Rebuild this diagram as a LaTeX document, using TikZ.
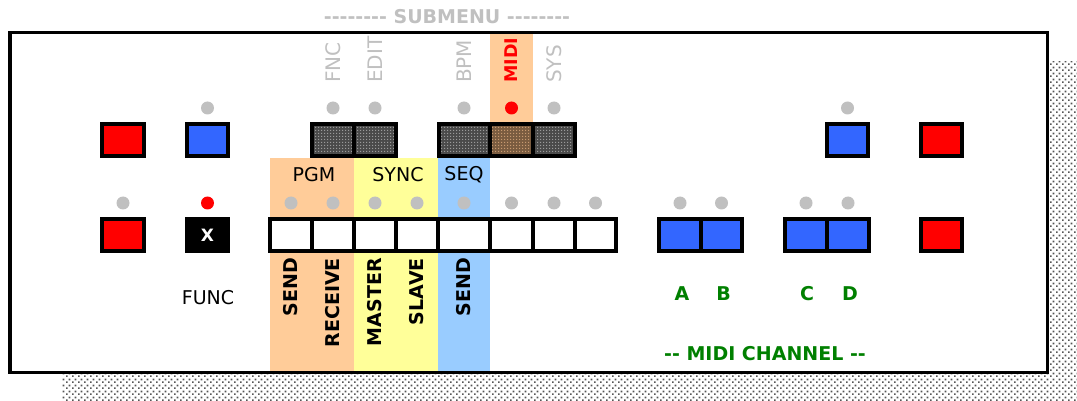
\documentclass[tikz,border=0pt]{standalone}
\usepackage{fontspec}
\setmainfont{DejaVu Sans}
\usetikzlibrary{patterns,patterns.meta}
\definecolor{btnred}{HTML}{FF0000}
\definecolor{btnblue}{HTML}{3366FF}
\definecolor{bandorange}{HTML}{FFCC99}
\definecolor{bandyellow}{HTML}{FFFF99}
\definecolor{bandblue}{HTML}{99CCFF}
\definecolor{ledgray}{HTML}{C0C0C0}
\definecolor{labgreen}{HTML}{008000}
\definecolor{cellgray}{HTML}{4A4A4A}
\definecolor{cellbrown}{HTML}{7A5C40}
\definecolor{dotgray}{HTML}{9A9A9A}
\definecolor{dotorange}{HTML}{C89A70}
\definecolor{shadowdot}{HTML}{555555}
\newcommand\myfs[1]{\fontsize{#1}{#1}\selectfont}
\newcommand\hy{-{}}
\tikzdeclarepattern{name=shadowdots, type=uncolored, bottom left={(0pt,0pt)}, top right={(6pt,6pt)}, tile size={(6pt,6pt)}, code={\fill (0pt,0pt) rectangle (2pt,2pt); \fill (3pt,3pt) rectangle (5pt,5pt);}}
\tikzdeclarepattern{name=celldots, type=uncolored, bottom left={(0pt,0pt)}, top right={(3pt,3pt)}, tile size={(3pt,3pt)}, code={\fill (0pt,0pt) rectangle (1.5pt,1.5pt);}}
\begin{document}
\begin{tikzpicture}[x=1pt,y=-1pt,
  btn/.style={rectangle, draw=black, line width=4pt, minimum height=32pt, inner sep=0pt},
  redbtn/.style={btn, fill=btnred},
  bluebtn/.style={btn, fill=btnblue},
  whitebtn/.style={btn, fill=white},
  darkcell/.style={btn, preaction={fill=cellgray}, pattern=celldots, pattern color=dotgray},
  midicell/.style={btn, preaction={fill=cellbrown}, pattern=celldots, pattern color=dotorange},
  led/.style={circle, fill=ledgray, minimum size=13pt, inner sep=0pt, draw=none},
  redled/.style={led, fill=red},
  toplab/.style={rotate=90, anchor=west, inner sep=0pt, text=ledgray, font=\myfs{20}},
  botlab/.style={rotate=90, anchor=east, inner sep=0pt, font=\myfs{19}\bfseries},
  grn/.style={text=labgreen, font=\myfs{19}\bfseries, inner sep=0pt},
  plain/.style={font=\myfs{19}, inner sep=0pt}
]
\useasboundingbox (0,0) rectangle (1077,401);
% shadow
\begin{scope}
  \clip (0,0) rectangle (1077,401);
  \fill[pattern=shadowdots, pattern color=shadowdot] (62,62) rectangle (1090,410);
\end{scope}
% panel
\fill[white] (9.75,32.75) rectangle (1047.25,372.25);
% bands
\fill[bandorange] (490,32.75) rectangle (533,124);
\fill[bandorange] (270,158) rectangle (354,372.25);
\fill[bandyellow] (354,158) rectangle (438,372.25);
\fill[bandblue] (438,158) rectangle (490,372.25);
\draw[line width=3.5pt] (9.75,32.75) rectangle (1047.25,372.25);

% submenu title
\node[font=\myfs{19}\bfseries, text=ledgray, inner sep=0pt] (submenu) at (447,17) {\hy\hy\hy\hy\hy\hy\hy\hy{} SUBMENU \hy\hy\hy\hy\hy\hy\hy\hy};

% row 1 buttons
\node[redbtn, minimum width=42pt] (r1a) at (123,140) {};
\node[bluebtn, minimum width=41pt] (r1b) at (207.5,140) {};
\node[darkcell, minimum width=42pt] (fnc) at (333,140) {};
\node[darkcell, minimum width=42pt] (edit) at (375,140) {};
\node[darkcell, minimum width=51pt] (bpm) at (464.5,140) {};
\node[midicell, minimum width=43pt] (midi) at (511.5,140) {};
\node[darkcell, minimum width=42pt] (sys) at (554,140) {};
\node[bluebtn, minimum width=41pt] (r1c) at (847.5,140) {};
\node[redbtn, minimum width=41pt] (r1d) at (941.5,140) {};

% row 1 leds
\node[led] (l1b) at (207.5,108) {};
\node[led] (lfnc) at (333,108) {};
\node[led] (ledit) at (375,108) {};
\node[led] (lbpm) at (464,108) {};
\node[redled] (lmidi) at (511.5,108) {};
\node[led] (lsys) at (554,108) {};
\node[led] (l1c) at (847.5,108) {};

% top labels
\node[toplab] (tfnc) at (333,83) {FNC};
\node[toplab] (tedit) at (375,83) {EDIT};
\node[toplab] (tbpm) at (464,83) {BPM};
\node[toplab, text=red, font=\myfs{17.5}\bfseries] (tmidi) at (511.5,83) {MIDI};
\node[toplab] (tsys) at (554,83) {SYS};

% group labels
\node[plain] (pgm) at (314,174.5) {PGM};
\node[plain] (sync) at (398,174.5) {SYNC};
\node[plain] (seq) at (464,174.5) {SEQ};

% row 2 buttons
\node[redbtn, minimum width=42pt] (r2a) at (123,235) {};
\node[btn, fill=black, minimum width=41pt, text=white, font=\myfs{17}\bfseries] (bx) at (207.5,235) {X};
\node[whitebtn, minimum width=42pt] (k1) at (291,235) {};
\node[whitebtn, minimum width=42pt] (k2) at (333,235) {};
\node[whitebtn, minimum width=42pt] (k3) at (375,235) {};
\node[whitebtn, minimum width=42pt] (k4) at (417,235) {};
\node[whitebtn, minimum width=52pt] (k5) at (464,235) {};
\node[whitebtn, minimum width=43pt] (k6) at (511.5,235) {};
\node[whitebtn, minimum width=42pt] (k7) at (554,235) {};
\node[whitebtn, minimum width=41pt] (k8) at (595.5,235) {};
\node[bluebtn, minimum width=42pt] (ba) at (680,235) {};
\node[bluebtn, minimum width=41pt] (bb) at (721.5,235) {};
\node[bluebtn, minimum width=42pt] (bc) at (806,235) {};
\node[bluebtn, minimum width=42pt] (bd) at (848,235) {};
\node[redbtn, minimum width=41pt] (r2d) at (941.5,235) {};

% row 2 leds
\node[led] (l2a) at (123,203) {};
\node[redled] (lx) at (207.5,203) {};
\node[led] (lk1) at (291,203) {};
\node[led] (lk2) at (333,203) {};
\node[led] (lk3) at (375,203) {};
\node[led] (lk4) at (417,203) {};
\node[led] (lk5) at (464,203) {};
\node[led] (lk6) at (511.5,203) {};
\node[led] (lk7) at (554,203) {};
\node[led] (lk8) at (595.5,203) {};
\node[led] (lba) at (680,203) {};
\node[led] (lbb) at (721.5,203) {};
\node[led] (lbc) at (806,203) {};
\node[led] (lbd) at (848,203) {};

% bottom labels
\node[botlab] (bsend) at (291,258) {SEND};
\node[botlab] (brecv) at (333,258) {RECEIVE};
\node[botlab] (bmaster) at (375,258) {MASTER};
\node[botlab] (bslave) at (417,258) {SLAVE};
\node[botlab] (bsend2) at (464,258) {SEND};

\node[plain] (func) at (208,298) {FUNC};
\node[grn] (ga) at (682,294) {A};
\node[grn] (gb) at (723.5,294) {B};
\node[grn] (gc) at (807,294) {C};
\node[grn] (gd) at (850,294) {D};
\node[grn] (mchan) at (765,354) {\hy\hy{} MIDI CHANNEL \hy\hy};
\end{tikzpicture}
\end{document}
